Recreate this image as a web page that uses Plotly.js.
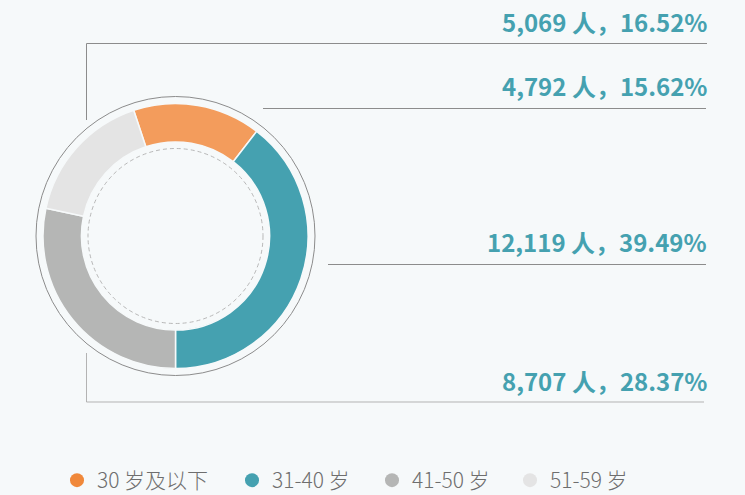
<!DOCTYPE html>
<html>
<head>
<meta charset="utf-8">
<script src="https://cdn.plot.ly/plotly-3.0.1.min.js"></script>
<style>
  html, body { margin: 0; padding: 0; background: #f6f9fa; }
  #chart { width: 745px; height: 495px; }
</style>
</head>
<body>
<div id="chart"></div>
<script>
// ---- data ----
const categories = ['30 岁及以下', '31-40 岁', '41-50 岁', '51-59 岁'];
const counts = [4792, 12119, 8707, 5069];
const sliceColors = ['#f39c5c', '#45a1b0', '#b5b6b5', '#e4e4e4'];
const legendColors = ['#f0883a', '#45a1b0', '#b5b6b5', '#e4e4e4'];

// ---- layout helpers (pixel -> paper) ----
const W = 745, H = 495;
const px = x => x / W;
const py = y => 1 - y / H;

const total = counts.reduce((a, b) => a + b, 0);
const fmt = n => n.toLocaleString('en-US');
const pct = n => (n / total * 100).toFixed(2);

// pie geometry
const cx = 175.5, cy = 236;
const pieCy = 236, pieR = 132.5;
// leader lines & label positions per category (pixels)
const leaders = [
  { pts: [[263, 108.5], [706, 108.5]], color: '#8c8c8c', ly: 85.5 },
  { pts: [[328, 264.5], [706, 264.5]], color: '#8c8c8c', ly: 241.7 },
  { pts: [[86.5, 353], [86.5, 402], [704, 402]], color: '#b3b3b3', ly: 380 },
  { pts: [[86.5, 120], [86.5, 43.5], [707, 43.5]], color: '#8c8c8c', ly: 22 }
];
// legend entry left edges (pixels)
const legendX = [57, 232, 372, 510];
const legendY = 480.5;

const traces = [{
  type: 'pie',
  labels: categories,
  values: counts,
  sort: false,
  direction: 'clockwise',
  rotation: -18.4,
  hole: 0.71,
  marker: { colors: sliceColors, line: { color: '#f6f9fa', width: 1.5 } },
  textinfo: 'none',
  hoverinfo: 'label+value+percent',
  showlegend: false,
  domain: { x: [px(cx - pieR), px(cx + pieR)], y: [py(pieCy + pieR), py(pieCy - pieR)] }
}];

const legendIds = ['legend', 'legend2', 'legend3', 'legend4'];
categories.forEach((c, i) => {
  traces.push({
    type: 'scatter', mode: 'markers', x: [null], y: [null],
    name: c, legend: legendIds[i],
    marker: { color: legendColors[i], size: 14 }, hoverinfo: 'skip'
  });
});

const shapes = [
  { type: 'circle', xref: 'paper', yref: 'paper',
    x0: px(cx - 139.5), x1: px(cx + 139.5), y0: py(cy + 139.5), y1: py(cy - 139.5),
    line: { color: '#8c8c8c', width: 1 } },
  { type: 'circle', xref: 'paper', yref: 'paper',
    x0: px(cx - 87.5), x1: px(cx + 87.5), y0: py(cy + 87.5), y1: py(cy - 87.5),
    line: { color: '#b8b8b8', width: 1, dash: '4px,3px' } }
];
leaders.forEach(l => {
  const d = l.pts.map((p, i) => (i ? 'L' : 'M') + px(p[0]) + ',' + py(p[1])).join(' ');
  shapes.push({ type: 'path', xref: 'paper', yref: 'paper', path: d,
    line: { color: l.color, width: 1 } });
});

const annotations = categories.map((c, i) => ({
  xref: 'paper', yref: 'paper',
  x: px(709), y: py(leaders[i].ly),
  xanchor: 'right', yanchor: 'middle',
  text: fmt(counts[i]) + ' 人，' + pct(counts[i]) + '%',
  showarrow: false,
  font: { family: 'Noto Sans CJK SC', size: 24, color: '#45a1b0', weight: 700 }
}));

const layout = {
  width: W, height: H,
  margin: { l: 0, r: 0, t: 0, b: 0, autoexpand: false },
  paper_bgcolor: '#f6f9fa',
  plot_bgcolor: '#f6f9fa',
  xaxis: { visible: false },
  yaxis: { visible: false },
  showlegend: true,
  shapes: shapes,
  annotations: annotations,
  font: { family: 'Noto Sans CJK SC' }
};
legendIds.forEach((id, i) => {
  layout[id] = {
    orientation: 'h', xref: 'paper', yref: 'paper',
    x: px(legendX[i]), y: py(legendY), xanchor: 'left', yanchor: 'middle',
    font: { family: 'Noto Sans CJK SC', size: 21, color: '#6e6e6e', weight: 300 },
    bgcolor: 'rgba(0,0,0,0)'
  };
});

Plotly.newPlot('chart', traces, layout, { displayModeBar: false, staticPlot: true });
</script>
</body>
</html>
